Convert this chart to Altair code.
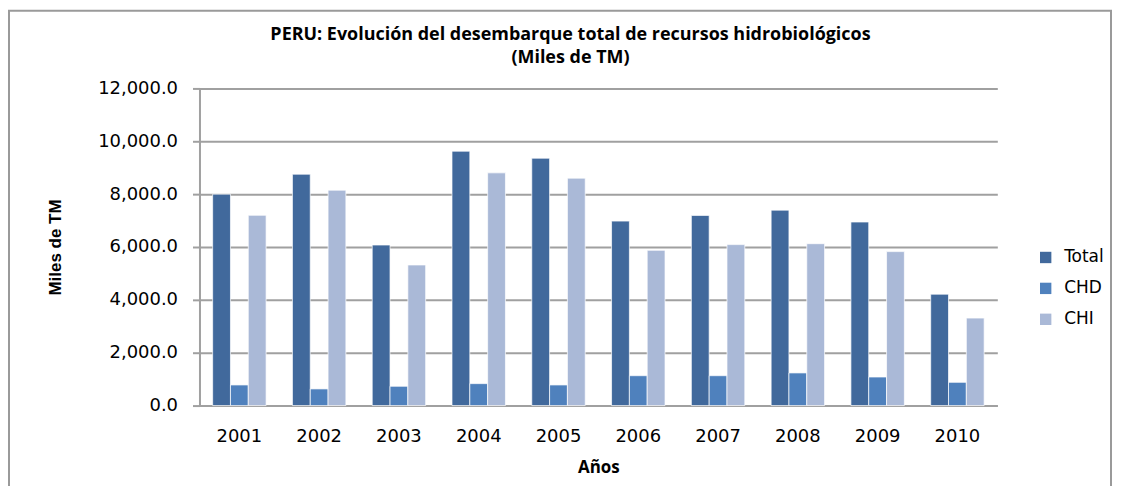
import altair as alt
import pandas as pd

years = ["2001", "2002", "2003", "2004", "2005", "2006", "2007", "2008", "2009", "2010"]
series = ["Total", "CHD", "CHI"]
total = [8000, 8755, 6075, 9625, 9360, 6980, 7195, 7395, 6945, 4215]
chd = [780, 630, 730, 830, 780, 1130, 1130, 1235, 1080, 880]
chi = [7200, 8150, 5320, 8805, 8605, 5875, 6090, 6125, 5825, 3310]
colors = ["#41699C", "#4F81BD", "#AAB9D7"]
title_lines = ["PERU: Evolución del desembarque total de recursos hidrobiológicos", "(Miles de TM)"]

rows = []
for i, y in enumerate(years):
    for s, vals in zip(series, [total, chd, chi]):
        rows.append({"Año": y, "Serie": s, "Valor": vals[i]})
df = pd.DataFrame(rows)

GRID = "#a0a0a0"
one = pd.DataFrame({"a": [0]})

bars = alt.Chart(df).mark_bar(stroke="white", strokeWidth=1, strokeOpacity=0.7).encode(
    x=alt.X("Año:N", sort=years,
            scale=alt.Scale(paddingInner=0.33, paddingOuter=0.165),
            axis=alt.Axis(title="Años", labelAngle=0, ticks=False, labelPadding=22,
                          labelFont="DejaVu Sans", labelFontSize=18, labelColor="#000",
                          titleFont="Open Sans", titleFontSize=17, titleFontWeight="bold",
                          titleColor="#000", titlePadding=14,
                          domainColor=GRID, domainWidth=2)),
    xOffset=alt.XOffset("Serie:N", sort=series, scale=alt.Scale(paddingInner=0, paddingOuter=0)),
    y=alt.Y("Valor:Q", scale=alt.Scale(domain=[0, 12000], nice=False),
            axis=alt.Axis(title="Miles de TM", values=[0, 2000, 4000, 6000, 8000, 10000, 12000],
                          format=",.1f", labelFont="DejaVu Sans", labelFontSize=18,
                          labelColor="#000", labelPadding=15, tickSize=7, tickColor=GRID,
                          tickWidth=2, domainColor=GRID, domainWidth=2,
                          gridColor=GRID, gridWidth=2,
                          titleFont="Liberation Sans", titleFontSize=17,
                          titleFontWeight="bold", titleColor="#000",
                          titleAngle=270, titleAlign="center", titleBaseline="middle",
                          titleX=-144, titleY=159)),
    color=alt.Color("Serie:N", sort=series,
                    scale=alt.Scale(domain=series, range=colors),
                    legend=alt.Legend(title=None, orient="none", legendX=840, legendY=161,
                                      symbolType="square", symbolSize=130,
                                      symbolStrokeWidth=0,
                                      labelFont="DejaVu Sans", labelFontSize=17,
                                      labelColor="#000", rowPadding=13, labelOffset=10)),
)

border = alt.Chart(one).mark_rect(
    fillOpacity=0, stroke="#9a9a9a", strokeWidth=2
).encode(
    x=alt.value(-191), x2=alt.value(914), y=alt.value(-78), y2=alt.value(430)
)

t1 = alt.Chart(one).mark_text(
    font="Open Sans", fontSize=18, fontWeight="bold", color="#000", align="center", baseline="middle"
).encode(x=alt.value(372), y=alt.value(-54), text=alt.value(title_lines[0]))

t2 = alt.Chart(one).mark_text(
    font="Open Sans", fontSize=18, fontWeight="bold", color="#000", align="center", baseline="middle"
).encode(x=alt.value(372), y=alt.value(-30), text=alt.value(title_lines[1]))

chart = alt.layer(bars, border, t1, t2).properties(
    width=800, height=318,
    autosize=alt.AutoSizeParams(type="none"),
    padding={"left": 192, "top": 80, "right": 116, "bottom": 80},
).configure_view(stroke=None)

chart.save("out.html", embed_options={"renderer": "svg", "actions": False})
